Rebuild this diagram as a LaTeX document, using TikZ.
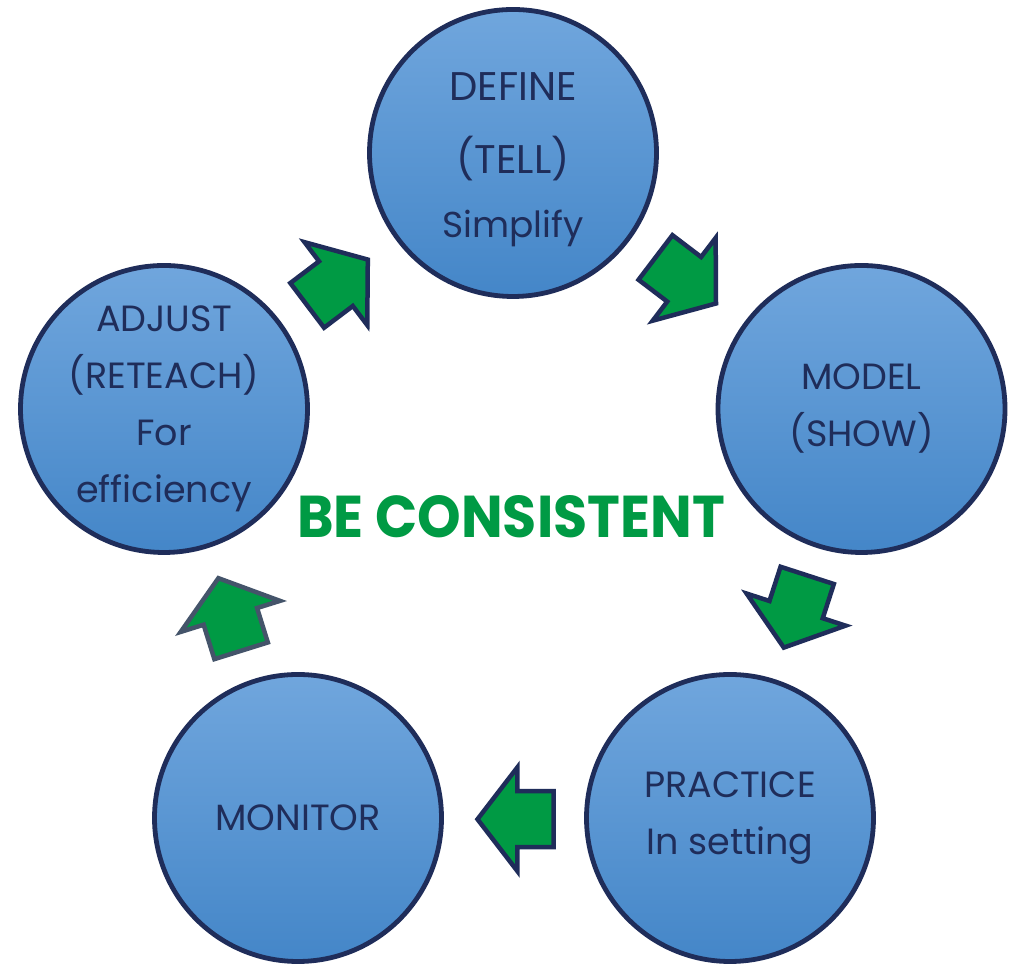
\documentclass[tikz,border=0pt]{standalone}
\usepackage{fontspec}
\setmainfont{Poppins}
\newfontfamily\headfont[FakeStretch=0.94]{Poppins}
\usetikzlibrary{calc}
\definecolor{navy}{HTML}{1F2D5A}
\definecolor{slate}{HTML}{44546A}
\definecolor{agreen}{HTML}{009A44}
\definecolor{btop}{HTML}{70A6DD}
\definecolor{bbot}{HTML}{4486C8}
\newcommand\greenarrow[3]{%
  \coordinate (#2b) at ($(#2)!0.474!(#3)$);
  \draw[#1] ($(#2)!28pt!90:(#3)$) -- ($(#2b)!28pt!90:(#3)$) -- ($(#2b)!52pt!90:(#3)$)
    -- (#3) -- ($(#2b)!52pt!-90:(#3)$) -- ($(#2b)!28pt!-90:(#3)$) -- ($(#2)!28pt!-90:(#3)$) -- cycle;}
\begin{document}
\begin{tikzpicture}[x=1pt,y=1pt,
  stage/.style={circle, draw=navy, line width=4.8pt, top color=btop, bottom color=bbot,
    minimum size=287pt, inner sep=0pt, align=center, text=navy,
    font=\fontsize{36.5}{57}\selectfont},
  blockarrow/.style={fill=agreen, draw=navy, line width=4.5pt, line join=miter},
  blockarrowgray/.style={blockarrow, draw=slate}]
\useasboundingbox[fill=white] (0,0) rectangle (1012,973);

\node[stage, font=\fontsize{40}{70}\selectfont] (define) at (513,820)
  {\rule{0pt}{41pt}DEFINE\\[3pt](TELL)\\[-6pt]{\fontsize{36}{40}\selectfont Simplify}};
\node[stage] (model) at (861.5,564) {MODEL\\(SHOW)};
\node[stage] (practice) at (730,155) {PRACTICE\\In setting};
\node[stage] (monitor) at (298,155) {MONITOR};
\node[stage] (adjust) at (164,564) {ADJUST\\(RETEACH)\\For\\efficiency};

\node[text=agreen, font=\headfont\bfseries\fontsize{59}{60}\selectfont] (consistent) at (511,456) {BE CONSISTENT};

% arrows: tail and tip coordinates
\coordinate (a1t) at (307.2,667.6);  \coordinate (a1p) at (367.8,713.4);
\coordinate (a2t) at (655.5,715.5);  \coordinate (a2p) at (716,669.5);
\coordinate (a3t) at (807.2,397.6);  \coordinate (a3p) at (783.8,325.4);
\coordinate (a4t) at (553.5,153.75); \coordinate (a4p) at (477.5,153.75);
\coordinate (a5t) at (241.1,322.2);  \coordinate (a5p) at (218.4,394.8);

\greenarrow{blockarrow}{a1t}{a1p}
\greenarrow{blockarrow}{a2t}{a2p}
\greenarrow{blockarrow}{a3t}{a3p}
\greenarrow{blockarrow}{a4t}{a4p}
\greenarrow{blockarrowgray}{a5t}{a5p}
\end{tikzpicture}
\end{document}
